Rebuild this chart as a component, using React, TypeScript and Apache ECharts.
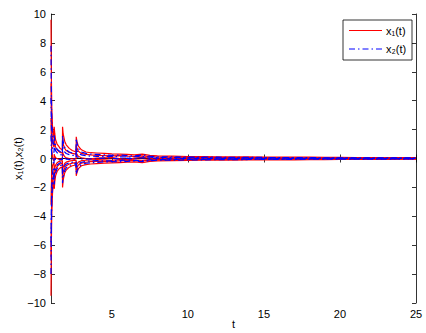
import React, { useEffect, useRef } from "react";
import * as echarts from "echarts";

const tValues = [1, 1.02, 1.05, 1.1, 1.15, 1.2, 1.21, 1.25, 1.3, 1.4, 1.5, 1.6, 1.75, 1.76, 1.8, 1.9, 2.0, 2.2, 2.4, 2.65, 2.66, 2.7, 2.8, 3.0, 3.3, 3.6, 4.0, 4.5, 5.0, 5.5, 6.0, 6.5, 7.0, 7.5, 8.0, 9, 10, 11, 12, 13, 14, 15, 16, 17, 18, 19, 20, 21, 22, 23, 24, 25];

const x1Series = [
  [9.6, 6.0, 3.6, 2.2, 1.6, 1.4, 2.2, 1.7, 1.3, 1.0, 0.85, 0.7, 0.6, 2.2, 1.7, 1.2, 0.95, 0.7, 0.55, 0.45, 1.5, 1.2, 0.85, 0.6, 0.45, 0.4, 0.38, 0.35, 0.32, 0.3, 0.28, 0.25, 0.3, 0.22, 0.18, 0.16, 0.14, 0.13, 0.12, 0.12, 0.11, 0.1, 0.1, 0.09, 0.09, 0.08, 0.08, 0.07, 0.07, 0.06, 0.06, 0.06],
  [-9.5, -6.2, -3.8, -2.4, -1.8, -1.5, -2.1, -1.6, -1.2, -0.9, -0.75, -0.65, -0.6, -2.0, -1.5, -1.0, -0.8, -0.6, -0.5, -0.45, -1.2, -1.0, -0.7, -0.5, -0.42, -0.38, -0.35, -0.32, -0.3, -0.28, -0.26, -0.24, -0.28, -0.2, -0.17, -0.15, -0.13, -0.12, -0.11, -0.11, -0.1, -0.1, -0.09, -0.09, -0.08, -0.08, -0.07, -0.07, -0.06, -0.06, -0.05, -0.05],
  [5.2, 3.4, 2.0, 1.2, 0.9, 0.8, 1.4, 1.1, 0.8, 0.6, 0.5, 0.42, 0.38, 1.3, 1.0, 0.7, 0.55, 0.42, 0.35, 0.3, 0.9, 0.75, 0.5, 0.35, 0.28, 0.25, 0.22, 0.2, 0.18, 0.2, 0.16, 0.15, 0.18, 0.13, 0.1, 0.09, 0.08, 0.08, 0.07, 0.07, 0.06, 0.06, 0.05, 0.05, 0.05, 0.04, 0.04, 0.04, 0.03, 0.03, 0.03, 0.03],
  [-6.8, -4.5, -2.6, -1.6, -1.1, -0.9, -1.5, -1.1, -0.8, -0.55, -0.45, -0.38, -0.32, -1.4, -1.0, -0.65, -0.5, -0.38, -0.32, -0.28, -0.8, -0.65, -0.45, -0.32, -0.26, -0.22, -0.2, -0.18, -0.2, -0.16, -0.15, -0.14, -0.17, -0.12, -0.1, -0.08, -0.07, -0.07, -0.06, -0.06, -0.05, -0.05, -0.05, -0.04, -0.04, -0.04, -0.03, -0.03, -0.03, -0.03, -0.02, -0.02],
  [2.8, 1.5, 0.6, 0.1, -0.1, -0.15, 0.3, 0.15, 0.05, 0.0, -0.05, -0.05, -0.04, 0.5, 0.3, 0.12, 0.05, 0.0, -0.02, -0.03, 0.4, 0.3, 0.15, 0.05, 0.0, -0.02, 0.02, 0.04, 0.06, 0.0, -0.05, 0.03, 0.08, 0.02, -0.02, 0.03, -0.02, 0.02, -0.01, 0.02, 0.0, -0.01, 0.01, 0.0, 0.01, -0.01, 0.0, 0.01, 0.0, 0.0, 0.0, 0.0],
  [-3.2, -2.0, -1.0, -0.5, -0.35, -0.3, -0.9, -0.65, -0.45, -0.3, -0.22, -0.18, -0.15, -0.8, -0.6, -0.35, -0.25, -0.18, -0.14, -0.12, -0.5, -0.4, -0.25, -0.15, -0.12, -0.1, -0.08, -0.1, -0.12, -0.08, -0.06, -0.1, -0.12, -0.07, -0.05, -0.06, -0.04, -0.05, -0.03, -0.04, -0.03, -0.03, -0.02, -0.03, -0.02, -0.02, -0.02, -0.01, -0.02, -0.01, -0.01, -0.01],
];

const x2Series = [
  [7.8, 4.8, 2.6, 1.5, 1.1, 0.95, 1.6, 1.2, 0.9, 0.65, 0.55, 0.48, 0.42, 1.6, 1.2, 0.8, 0.6, 0.45, 0.38, 0.33, 1.4, 1.1, 0.7, 0.45, 0.35, 0.3, 0.28, 0.25, 0.22, 0.24, 0.2, 0.18, 0.25, 0.16, 0.12, 0.11, 0.1, 0.09, 0.09, 0.08, 0.08, 0.07, 0.07, 0.06, 0.06, 0.05, 0.05, 0.05, 0.04, 0.04, 0.04, 0.04],
  [-8.0, -5.0, -2.9, -1.8, -1.3, -1.1, -1.8, -1.3, -1.0, -0.7, -0.58, -0.5, -0.45, -1.7, -1.3, -0.85, -0.65, -0.5, -0.4, -0.36, -1.1, -0.9, -0.6, -0.42, -0.33, -0.3, -0.27, -0.24, -0.22, -0.23, -0.2, -0.17, -0.22, -0.15, -0.12, -0.11, -0.1, -0.09, -0.08, -0.08, -0.07, -0.07, -0.06, -0.06, -0.05, -0.05, -0.05, -0.04, -0.04, -0.04, -0.03, -0.03],
  [4.2, 2.6, 1.3, 0.7, 0.5, 0.42, 1.0, 0.75, 0.55, 0.4, 0.32, 0.27, 0.24, 0.9, 0.7, 0.45, 0.35, 0.27, 0.22, 0.2, 0.7, 0.55, 0.38, 0.25, 0.2, 0.16, 0.15, 0.14, 0.15, 0.12, 0.1, 0.12, 0.14, 0.09, 0.07, 0.07, 0.06, 0.06, 0.05, 0.05, 0.04, 0.04, 0.04, 0.03, 0.03, 0.03, 0.03, 0.02, 0.02, 0.02, 0.02, 0.02],
  [-5.8, -3.6, -1.9, -1.0, -0.7, -0.6, -1.2, -0.9, -0.65, -0.45, -0.36, -0.3, -0.26, -1.1, -0.8, -0.5, -0.38, -0.3, -0.25, -0.22, -0.7, -0.55, -0.38, -0.26, -0.2, -0.17, -0.15, -0.16, -0.17, -0.13, -0.11, -0.13, -0.15, -0.1, -0.08, -0.07, -0.06, -0.06, -0.05, -0.05, -0.04, -0.04, -0.04, -0.03, -0.03, -0.03, -0.03, -0.02, -0.02, -0.02, -0.02, -0.02],
  [1.6, 0.8, 0.2, -0.2, -0.3, -0.3, 0.1, 0.0, -0.08, -0.1, -0.1, -0.08, -0.06, 0.3, 0.15, 0.02, -0.04, -0.06, -0.05, -0.04, 0.25, 0.15, 0.05, -0.02, -0.04, -0.03, 0.0, 0.03, 0.02, -0.03, 0.02, -0.02, 0.05, 0.0, 0.02, -0.02, 0.02, -0.01, 0.01, -0.01, 0.01, 0.0, -0.01, 0.01, 0.0, 0.0, 0.01, 0.0, 0.0, 0.0, 0.0, 0.0],
];

const xTicks = [5, 10, 15, 20, 25];
const legendLabels = ["x\u2081(t)", "x\u2082(t)"];

const FONT = "'Liberation Sans', Arial, Helvetica, sans-serif";
const RED = "#ff0000";
const BLUE = "#0000ff";
const DASHDOT = [6, 3, 1.5, 3];

export default function App() {
  const ref = useRef<HTMLDivElement>(null);
  useEffect(() => {
    if (!ref.current) return;
    const chart = echarts.init(ref.current, null, { renderer: "svg" });
    const toPairs = (ys: number[]) => tValues.map((t, i) => [t, ys[i]]);
    const series: any[] = [];
    x1Series.forEach((ys) =>
      series.push({
        name: "x1",
        type: "line",
        data: toPairs(ys),
        showSymbol: false,
        symbol: "none",
        lineStyle: { color: RED, width: 1.2, type: "solid" },
      })
    );
    x2Series.forEach((ys) =>
      series.push({
        name: "x2",
        type: "line",
        data: toPairs(ys),
        showSymbol: false,
        symbol: "none",
        lineStyle: { color: BLUE, width: 1.2, type: DASHDOT },
      })
    );
    const axisLine = { show: true, lineStyle: { color: "#000", width: 0.8 } };
    const tick = { show: true, inside: true, length: 4, lineStyle: { color: "#000", width: 0.8 } };
    const legendText = { fontFamily: FONT, fontSize: 11, fill: "#000" };
    chart.setOption({
      animation: false,
      backgroundColor: "#fff",
      grid: { left: 51, right: 10, top: 14, bottom: 30, show: false, outerBoundsMode: "none", containLabel: false },
      graphic: [
        {
          type: "rect",
          shape: { x: 343, y: 20, width: 69, height: 40 },
          style: { fill: "#fff", stroke: "#000", lineWidth: 0.8 },
          z: 100,
        },
        {
          type: "line",
          shape: { x1: 349, y1: 30.5, x2: 382, y2: 30.5 },
          style: { stroke: RED, lineWidth: 1 },
          z: 101,
        },
        {
          type: "line",
          shape: { x1: 349, y1: 49, x2: 382, y2: 49 },
          style: { stroke: BLUE, lineWidth: 1, lineDash: DASHDOT },
          z: 101,
        },
        {
          type: "text",
          x: 386,
          y: 30.5,
          style: { ...legendText, text: legendLabels[0], verticalAlign: "middle" },
          z: 101,
        },
        {
          type: "text",
          x: 386,
          y: 49,
          style: { ...legendText, text: legendLabels[1], verticalAlign: "middle" },
          z: 101,
        },
      ],
      xAxis: [
        {
          type: "value",
          min: 1,
          max: 25,
          position: "bottom",
          name: "t",
          nameLocation: "middle",
          nameGap: 15,
          nameMoveOverlap: false,
          nameTextStyle: { fontFamily: FONT, fontSize: 11, color: "#000" },
          axisLine,
          axisTick: { ...tick, customValues: xTicks },
          axisLabel: { customValues: xTicks, fontFamily: FONT, fontSize: 11, color: "#000", margin: 5 },
          splitLine: { show: false },
        },
        {
          type: "value",
          min: 1,
          max: 25,
          position: "top",
          axisLine,
          axisTick: { ...tick, customValues: xTicks },
          axisLabel: { show: false },
          splitLine: { show: false },
        },
      ],
      yAxis: [
        {
          type: "value",
          min: -10,
          max: 10,
          interval: 2,
          position: "left",
          name: "x\u2081(t),x\u2082(t)",
          nameLocation: "middle",
          nameGap: 28,
          nameMoveOverlap: false,
          nameTextStyle: { fontFamily: FONT, fontSize: 11, color: "#000" },
          axisLine,
          axisTick: tick,
          axisLabel: {
            fontFamily: FONT,
            fontSize: 11,
            color: "#000",
            margin: 5,
            formatter: (v: number) => String(v).replace("-", "\u2212"),
          },
          splitLine: { show: false },
        },
        {
          type: "value",
          min: -10,
          max: 10,
          interval: 2,
          position: "right",
          axisLine,
          axisTick: tick,
          axisLabel: { show: false },
          splitLine: { show: false },
        },
      ],
      series,
    });
    return () => chart.dispose();
  }, []);
  return <div ref={ref} style={{ width: 426, height: 333, position: "fixed", left: 0, top: 0 }} />;
}
